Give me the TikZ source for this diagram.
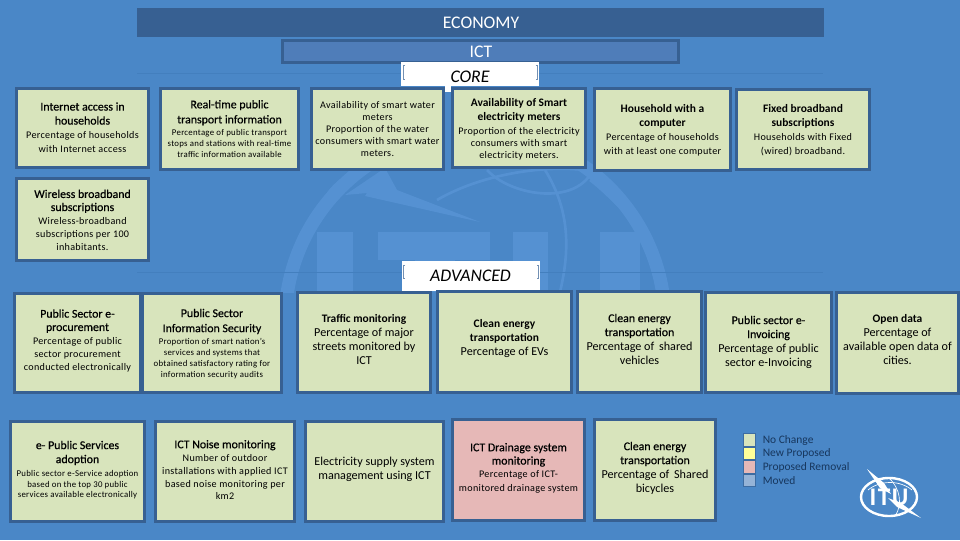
\documentclass[tikz,border=0pt]{standalone}
\usepackage{fontspec}
\setmainfont{Carlito}
\definecolor{bgblue}{HTML}{4A87C7}
\definecolor{wmblue}{HTML}{5591D2}
\definecolor{edgeblue}{HTML}{376092}
\definecolor{ictblue}{HTML}{4F7DB9}
\definecolor{kpigreen}{HTML}{D8E4BC}
\definecolor{kpipink}{HTML}{E6B8B7}
\definecolor{kpiyellow}{HTML}{FFFF99}
\definecolor{kpimoved}{HTML}{95B3D7}
\definecolor{navytext}{HTML}{17375E}
\definecolor{rulecol}{HTML}{437FBE}
\newcommand{\kh}{\fontsize{8.6}{10.5}\selectfont\bfseries}
\newcommand{\kH}{\fontsize{8.9}{10.5}\selectfont\addfontfeature{FakeBold=0.5}}
\newcommand{\kd}{\fontsize{7.6}{9.5}\selectfont\addfontfeature{LetterSpace=3}}
\newcommand{\kD}{\fontsize{9.1}{10.5}\selectfont}
\newcommand{\ks}{\fontsize{6.6}{8.2}\selectfont\addfontfeature{LetterSpace=3}}
\newcommand{\kl}{10.5}
\newcommand{\lh}[1]{\renewcommand{\kl}{#1}}
\tikzset{
  kpibox/.style={draw=edgeblue,line width=2.2pt,fill=kpigreen,inner sep=0pt,outer sep=0pt},
  kpitext/.style={align=center,inner sep=0pt,text=black,font=\fontsize{8.2}{\kl}\selectfont},
  legendbox/.style={draw=edgeblue!70!bgblue,line width=0.8pt,inner sep=0pt,minimum width=9.4pt,minimum height=9.4pt},
  legendtext/.style={anchor=west,inner sep=0pt,text=navytext,font=\fontsize{8.6}{10}\selectfont},
  bandtext/.style={text=white,font=\fontsize{13.3}{15}\selectfont,inner sep=0pt},
  stagetext/.style={text=black,font=\fontsize{13.3}{15}\selectfont\itshape,inner sep=0pt},
  bracketline/.style={draw=edgeblue!70!white,line width=0.5pt},
  wm/.style={fill=wmblue,draw=none}
}
% name, x1, y1, x2, y2, fill, text centre y, text
\newcommand{\kpi}[8]{%
  \pgfmathsetmacro{\cxx}{(#2+#4)/2}%
  \pgfmathsetmacro{\cyy}{(#3+#5)/2}%
  \pgfmathsetmacro{\ww}{(#4-#2-3)*0.75}%
  \pgfmathsetmacro{\hh}{(#5-#3-3)*0.75}%
  \node[kpibox,fill=#6,minimum width=\ww pt,minimum height=\hh pt] (#1) at (\cxx,\cyy) {};
  \node[kpitext] (#1-t) at (\cxx,#7) {#8};
  \lh{10.5}%
}
\begin{document}
\begin{tikzpicture}[x=0.75pt,y=-0.75pt]
\useasboundingbox (0,0) rectangle (960,540);
\fill[bgblue] (0,0) rectangle (960,540);
% watermark
\begin{scope}
\clip (0,160) rectangle (960,292);
\draw[wmblue,line width=10pt] (475,322) circle (190);
\draw[wmblue,line width=2pt] (322,205) .. controls (330,185) and (345,175) .. (370,165);
\draw[wmblue,line width=2pt] (437,200) .. controls (480,175) and (540,165) .. (585,170);
\draw[wmblue,line width=2pt] (487,170) .. controls (510,195) and (570,205) .. (590,175);
\draw[wmblue,line width=2pt] (545,170) .. controls (570,210) and (570,250) .. (560,292);
\draw[wmblue,line width=2pt] (590,180) .. controls (610,195) and (625,215) .. (640,225);
\fill[wm] (317,232) rectangle (353,292);
\fill[wm] (378,232) rectangle (490,260);
\fill[wm] (415,260) rectangle (455,292);
\fill[wm] (513,232) rectangle (548,292);
\fill[wm] (600,232) rectangle (640,292);
\fill[wm] (385,168) -- (397,190) -- (480,222) -- (365,196) -- (367,193) -- (345,195) -- cycle;
\end{scope}
% rules
\draw[rulecol,line width=0.5pt] (137,73) -- (823,73);
\draw[rulecol,line width=0.5pt] (137,272) -- (823,272);
% bands
\fill[edgeblue] (137,8) rectangle (824,37);
\node[bandtext] (economy) at (481,23) {ECONOMY};
\draw[edgeblue,line width=2.2pt,fill=ictblue] (282.5,40.5) rectangle (678.5,62.5);
\node[bandtext] (ict) at (481,51.5) {ICT};
% stage labels
\fill[white] (401,62) rectangle (539,86);
\fill[white] (445,86) rectangle (451,92);
\node[stagetext] (core) at (470,77) {CORE};
\draw[bracketline] (405,65) -- (403.5,65) -- (403.5,79) -- (405,79);
\draw[bracketline] (535.5,65) -- (537,65) -- (537,79) -- (535.5,79);
\fill[white] (402,261) rectangle (540,291);
\node[stagetext] (advanced) at (470.5,275.5) {ADVANCED};
\draw[bracketline] (405,265) -- (403.5,265) -- (403.5,278) -- (405,278);
\draw[bracketline] (537,265) -- (538.5,265) -- (538.5,278) -- (537,278);
% core
\kpi{inet}{15}{87}{150}{169}{kpigreen}{127.5}{{\kH Internet access in}\\{\kH households}\\{\kd Percentage of households}\\{\kd with Internet access}}
\lh{8.3}\kpi{rtpt}{159}{87}{300}{171}{kpigreen}{129}{{\kH Real-time public}\\[3pt]{\kH transport information}\\[1pt]{\ks Percentage of public transport}\\{\ks stops and stations with real-time}\\{\ks traffic information available}}
\lh{9}\kpi{water}{310}{87}{445}{171}{kpigreen}{129}{{\kd Availability of smart water}\\{\kd meters}\\{\kd Proportion of the water}\\{\kd consumers with smart water}\\{\kd meters.}}
\lh{9}\kpi{elec}{451}{87}{587}{169}{kpigreen}{129}{{\kh Availability of Smart}\\[1.5pt]{\kh electricity meters}\\[1.5pt]{\kd Proportion of the electricity}\\{\kd consumers with smart}\\{\kd electricity meters.}}
\kpi{comp}{593}{87}{732}{172}{kpigreen}{130}{{\kh Household with a}\\{\kh computer}\\{\kd Percentage of households}\\{\kd with at least one computer}}
\kpi{fixed}{735}{88}{871}{171}{kpigreen}{130}{{\kh Fixed broadband}\\{\kh subscriptions}\\{\kd Households with Fixed}\\{\kd (wired) broadband.}}
\lh{9.8}\kpi{wifi}{15}{177}{150}{262}{kpigreen}{220}{{\kH Wireless broadband}\\{\kH subscriptions}\\{\kd Wireless-broadband}\\{\kd subscriptions per 100}\\{\kd inhabitants.}}
% advanced
\lh{10}\kpi{proc}{13}{292}{142}{394}{kpigreen}{341}{{\kH Public Sector e-}\\{\kH procurement}\\{\kd Percentage of public}\\{\kd sector procurement}\\{\kd conducted electronically}}
\lh{8.3}\kpi{sec}{141}{292}{283}{394}{kpigreen}{344}{{\kH Public Sector}\\[3pt]{\kH Information Security}\\[1pt]{\ks Proportion of smart nation's}\\{\ks services and systems that}\\{\ks obtained satisfactory rating for}\\{\ks information security audits}}
\kpi{traffic}{296}{291}{432}{394}{kpigreen}{339.5}{{\kh Traffic monitoring}\\{\kD Percentage of major}\\{\kD streets monitored by}\\{\kD ICT}}
\kpi{evs}{436}{290}{573}{394}{kpigreen}{339}{{\kh Clean energy}\\{\kh transportation}\\{\kD Percentage of EVs}}
\kpi{shared}{576}{290}{703}{394}{kpigreen}{339}{{\kH Clean energy}\\{\kH transportation}\\{\kD Percentage of\, shared}\\{\kD vehicles}}
\kpi{einv}{704}{291}{833}{394}{kpigreen}{342}{{\kH Public sector e-}\\{\kH Invoicing}\\{\kD Percentage of public}\\{\kD sector e-Invoicing}}
\kpi{open}{835}{291}{960}{395}{kpigreen}{340}{{\kh Open data}\\{\kD Percentage of}\\{\kD available open data of}\\{\kD cities.}}
% third row
\lh{8}\kpi{epub}{9}{420}{146}{523}{kpigreen}{470}{{\kH e- Public Services}\\[2.5pt]{\kH adoption}\\[2pt]{\ks Public sector e-Service adoption}\\{\ks based on the top 30 public}\\{\ks services available electronically}}
\lh{9.7}\kpi{noise}{154}{420}{296}{523}{kpigreen}{470}{{\kH ICT Noise monitoring}\\{\kd Number of outdoor}\\{\kd installations with applied ICT}\\{\kd based noise monitoring per}\\{\kd km2}}
\kpi{supply}{304}{420}{445}{523}{kpigreen}{469}{{\kD Electricity supply system}\\{\kD management using ICT}}
\lh{10}\kpi{drain}{451}{418}{586}{522}{kpipink}{468}{{\kH ICT Drainage system}\\{\kH monitoring}\\{\kd Percentage of ICT-}\\{\kd monitored drainage system}}
\kpi{bike}{593}{418}{717}{522}{kpigreen}{468}{{\kH Clean energy}\\{\kH transportation}\\{\kD Percentage of\, Shared}\\{\kD bicycles}}
% legend
\node[legendbox,fill=kpigreen] (l1) at (749.5,440) {};
\node[legendbox,fill=kpiyellow] (l2) at (749.5,453.5) {};
\node[legendbox,fill=kpipink] (l3) at (749.5,467) {};
\node[legendbox,fill=kpimoved] (l4) at (749.5,480.5) {};
\node[legendtext] (lt1) at (762.5,440) {No Change};
\node[legendtext] (lt2) at (762.5,453.5) {New Proposed};
\node[legendtext] (lt3) at (762.5,467) {Proposed Removal};
\node[legendtext] (lt4) at (762.5,480.5) {Moved};
% ITU logo
\draw[white,line width=1.8pt] (889,497) ellipse (28 and 19);
\draw[white,line width=0.5pt] (868,490) .. controls (880,480) and (900,480) .. (912,490);
\draw[white,line width=0.5pt] (889,478) .. controls (900,488) and (903,505) .. (895,516);
\fill[white] (867,469) -- (884,483) -- (891,494) -- (880,488) -- cycle;
\fill[white] (921,518) -- (897,507) -- (888,498) -- (901,503) -- cycle;
\node[inner sep=0pt,text=white,font=\fontsize{19}{19}\selectfont\bfseries\addfontfeature{LetterSpace=6}] (itu) at (889,497) {ITU};
\end{tikzpicture}
\end{document}
